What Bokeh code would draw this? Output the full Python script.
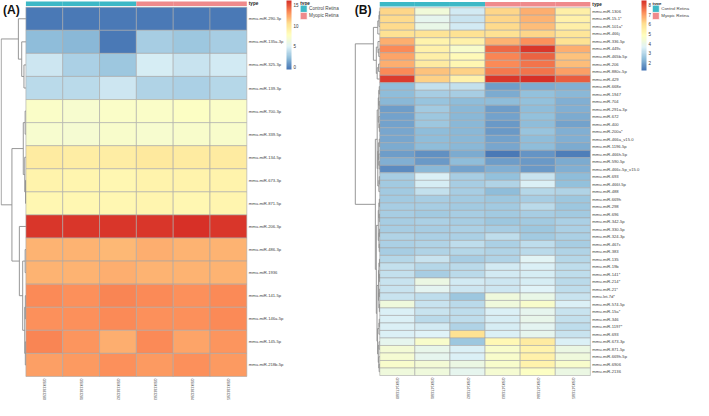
import numpy as np
from bokeh.plotting import figure
from bokeh.models import Range1d, ColumnDataSource, LinearColorMapper, ColorBar, FixedTicker
from bokeh.embed import file_html
from bokeh.resources import INLINE
from bokeh.core.properties import value

# ---------------- data ----------------
types = ["Control Retina", "Control Retina", "Control Retina",
         "Myopic Retina", "Myopic Retina", "Myopic Retina"]
type_colors = {"Control Retina": "#3DB8C6", "Myopic Retina": "#EF8A8C"}

samples_a = ["GSM3383280", "GSM3383281", "GSM3383282", "GSM3383283", "GSM3383284", "GSM3383285"]
samples_b = ["GSM1473380", "GSM1473381", "GSM1473382", "GSM1473383", "GSM1473384", "GSM1473385"]

genes_a = ["mmu-miR-290-3p", "mmu-miR-135a-3p", "mmu-miR-325-3p", "mmu-miR-139-3p",
           "mmu-miR-700-3p", "mmu-miR-339-5p", "mmu-miR-134-5p", "mmu-miR-673-3p",
           "mmu-miR-871-5p", "mmu-miR-206-3p", "mmu-miR-486-3p", "mmu-miR-1936",
           "mmu-miR-141-5p", "mmu-miR-146a-5p", "mmu-miR-145-5p", "mmu-miR-218b-5p"]
vals_a = [
    [-0.4, -0.4, -0.3, -0.4, -0.4, -0.4],
    [2.2, 1.9, -0.4, 3.0, 2.7, 3.0],
    [4.3, 3.1, 2.6, 4.6, 4.1, 4.5],
    [3.6, 3.7, 4.3, 3.4, 3.2, 3.5],
    [7.3, 7.0, 7.3, 7.4, 7.5, 7.4],
    [7.0, 6.9, 7.1, 7.0, 7.2, 7.1],
    [9.6, 9.4, 9.3, 9.7, 9.5, 9.6],
    [8.8, 8.7, 8.6, 8.9, 8.8, 8.9],
    [8.6, 8.6, 8.5, 8.7, 8.6, 8.7],
    [16.0, 16.0, 15.9, 16.0, 16.1, 16.0],
    [12.0, 12.1, 11.9, 12.2, 12.0, 12.1],
    [12.1, 12.0, 12.2, 12.0, 12.1, 12.0],
    [13.4, 13.3, 13.5, 13.4, 13.3, 13.4],
    [13.3, 13.2, 13.4, 13.3, 13.3, 13.4],
    [13.6, 13.0, 12.3, 13.4, 12.6, 13.0],
    [12.8, 12.9, 13.3, 12.9, 13.3, 12.9],
]
ticks_a = [0, 5, 10, 15]
range_a = (-0.63, 16.17)

genes_b = ["mmu-miR-1306", "mmu-miR-15-1*", "mmu-miR-101a*", "mmu-miR-466j", "mmu-miR-336-5p",
           "mmu-miR-449c", "mmu-miR-465b-5p", "mmu-miR-206", "mmu-miR-880c-5p", "mmu-miR-429",
           "mmu-miR-668e", "mmu-miR-1947", "mmu-miR-704", "mmu-miR-291a-3p", "mmu-miR-672",
           "mmu-miR-400", "mmu-miR-200a*", "mmu-miR-466a_v15.0", "mmu-miR-1196-5p", "mmu-miR-466h-5p",
           "mmu-miR-590-5p", "mmu-miR-466c-5p_v15.0", "mmu-miR-693", "mmu-miR-466f-5p", "mmu-miR-488",
           "mmu-miR-669h", "mmu-miR-298", "mmu-miR-696", "mmu-miR-342-5p", "mmu-miR-330-5p",
           "mmu-miR-324-3p", "mmu-miR-467c", "mmu-miR-383", "mmu-miR-135", "mmu-miR-19b",
           "mmu-miR-141*", "mmu-miR-214*", "mmu-miR-21*", "mmu-let-7d*", "mmu-miR-574-5p",
           "mmu-miR-15a*", "mmu-miR-346", "mmu-miR-1197*", "mmu-miR-693", "mmu-miR-673-3p",
           "mmu-miR-871-5p", "mmu-miR-669h-5p", "mmu-miR-6906", "mmu-miR-2136"]
vals_b = [
    [6.2, 4.3, 3.4, 6.2, 6.8, 5.5],
    [6.1, 3.9, 3.3, 6.2, 6.7, 5.4],
    [6.1, 4.0, 3.4, 6.1, 6.6, 5.5],
    [6.0, 5.9, 6.0, 6.0, 6.2, 5.8],
    [6.8, 5.3, 5.4, 6.7, 7.2, 6.0],
    [7.3, 5.4, 4.6, 7.7, 8.4, 6.8],
    [6.9, 5.5, 5.0, 7.4, 7.8, 6.5],
    [6.8, 5.6, 5.2, 7.3, 7.6, 6.6],
    [7.3, 6.5, 6.3, 7.5, 7.6, 7.0],
    [8.3, 6.3, 5.4, 8.4, 8.5, 7.9],
    [2.4, 3.2, 3.2, 1.9, 2.1, 2.2],
    [2.4, 2.75, 2.8, 2.1, 2.45, 2.35],
    [2.35, 2.55, 2.4, 2.4, 2.5, 2.15],
    [1.9, 2.7, 2.35, 1.9, 2.4, 2.2],
    [1.95, 2.6, 2.3, 1.95, 2.45, 2.1],
    [1.95, 2.6, 2.35, 1.85, 2.4, 1.95],
    [2.05, 2.4, 2.35, 1.85, 2.55, 2.2],
    [2.05, 2.4, 2.3, 1.95, 2.4, 2.15],
    [2.1, 2.4, 2.35, 2.05, 2.4, 2.1],
    [1.9, 1.65, 2.1, 1.3, 1.75, 1.35],
    [2.2, 1.85, 2.4, 1.9, 1.8, 2.1],
    [1.6, 2.35, 1.95, 2.15, 1.85, 2.15],
    [2.75, 3.6, 2.75, 2.5, 3.3, 2.4],
    [2.7, 3.5, 2.75, 2.95, 3.55, 2.5],
    [2.7, 3.2, 2.8, 2.4, 3.0, 2.95],
    [2.7, 2.75, 2.7, 2.6, 2.75, 2.6],
    [2.75, 2.8, 2.7, 2.7, 3.05, 2.6],
    [2.75, 2.7, 2.8, 2.7, 2.8, 2.7],
    [2.8, 2.85, 2.75, 2.6, 2.7, 2.85],
    [2.8, 2.8, 2.85, 2.75, 2.65, 2.85],
    [2.9, 2.85, 2.85, 3.15, 2.7, 2.85],
    [2.85, 2.95, 3.15, 2.85, 3.1, 2.8],
    [2.8, 2.95, 3.0, 2.95, 3.05, 2.9],
    [3.0, 3.25, 2.8, 2.95, 3.7, 3.0],
    [3.2, 3.0, 3.05, 3.4, 3.6, 3.1],
    [3.2, 2.8, 3.05, 3.4, 3.5, 3.15],
    [3.3, 4.1, 3.45, 3.35, 3.5, 3.05],
    [3.25, 3.8, 3.35, 3.35, 3.65, 3.1],
    [3.3, 3.1, 2.6, 4.2, 4.0, 3.3],
    [4.2, 3.3, 3.05, 4.2, 4.6, 3.55],
    [3.55, 3.3, 3.15, 3.55, 3.9, 3.3],
    [3.6, 3.05, 3.1, 3.5, 3.95, 3.2],
    [3.6, 3.45, 2.95, 3.5, 3.8, 3.15],
    [3.6, 3.65, 6.0, 3.55, 3.9, 3.3],
    [3.85, 4.6, 2.65, 5.1, 5.6, 3.55],
    [4.4, 3.95, 3.55, 4.6, 5.35, 4.05],
    [4.45, 3.85, 3.55, 4.6, 5.4, 4.2],
    [4.6, 4.4, 4.05, 4.6, 5.35, 4.6],
    [4.2, 4.2, 3.9, 4.45, 4.75, 4.05],
]
ticks_b = [2, 3, 4, 5, 6, 7, 8]
range_b = (1.2, 8.5)

# dendrogram merges: (left, right, height)
tree_a = ((0, (1, (2, 3, 2.0), 4.3), 7.7),
          (((4, 5, 0.8), (6, (7, 8, 0.4), 1.2), 2.7),
           (9, ((10, 11, 0.8), ((12, 13, 0.6), (14, 15, 0.6), 1.2), 3.3), 6.7),
           14.3),
          25.3)
warm_b = ((((0, 1, 0.4), 2, 0.8), 3, 2.0),
          ((4, (5, 6, 1.0), 1.8), ((7, 8, 1.2), 9, 2.6), 3.5), 6.5)
blue1_b = ((((10, 11, 0.5), (12, 13, 0.6), 1.0), (14, (15, 16, 0.4), 0.9), 1.5),
           (((17, 18, 0.5), (19, (20, 21, 0.6), 1.0), 1.4), ((22, 23, 0.5), 24, 0.9), 2.0), 2.6)
blue2_b = ((((25, 26, 0.4), (27, 28, 0.5), 0.9), ((29, 30, 0.4), (31, 32, 0.5), 0.8), 1.5),
           ((((33, 34, 0.3), (35, 36, 0.4), 0.8), ((37, 38, 0.5), (39, 40, 0.4), 0.9), 1.3),
            (((41, 42, 0.5), 43, 0.8), ((44, 45, 0.7), (46, (47, 48, 0.6), 1.0), 1.5), 2.2), 2.8), 3.5)
tree_b = (warm_b, (blue1_b, blue2_b, 4.5), 25.0)

# ---------------- styling ----------------
anchors = ["#4575B4", "#91BFDB", "#E0F3F8", "#FFFFBF", "#FEE090", "#FC8D59", "#D73027"]

def ramp(cols, n):
    rgb = np.array([[int(c[i:i + 2], 16) for i in (1, 3, 5)] for c in cols], float)
    pos = np.linspace(0, 1, len(cols))
    out = []
    for t in np.linspace(0, 1, n):
        r = [np.interp(t, pos, rgb[:, k]) for k in range(3)]
        out.append("#%02x%02x%02x" % tuple(int(round(v)) for v in r))
    return out

palette = ramp(anchors, 100)
FONT = value("Liberation Sans")

W, H = 693, 400
RW, RH = 709, 416
SX, SY = W / RW, H / RH
FS = (SX + SY) / 2

p = figure(width=W, height=H, x_range=Range1d(0, RW), y_range=Range1d(RH, 0),
           output_backend="svg", toolbar_location=None,
           x_axis_location=None, y_axis_location=None, min_border=0)
p.grid.visible = False
p.outline_line_color = None
p.background_fill_color = "white"


def px(v):
    return "%.2fpx" % (v * FS)


def panel(genes, vals, samples, tree, rng, ticks, x0, x1, y0, y1, tag, tagx,
          cbx, cby1, legx, legfs):
    nr, nc = len(genes), len(samples)
    cw = (x1 - x0) / nc
    rh = (y1 - y0) / nr
    mapper = LinearColorMapper(palette=palette, low=rng[0], high=rng[1])
    L, R, T, B, V = [], [], [], [], []
    for i in range(nr):
        for j in range(nc):
            L.append(x0 + j * cw); R.append(x0 + (j + 1) * cw)
            T.append(y0 + i * rh); B.append(y0 + (i + 1) * rh)
            V.append(vals[i][j])
    src = ColumnDataSource(dict(left=L, right=R, top=T, bottom=B, v=V))
    p.quad(left="left", right="right", top="top", bottom="bottom", source=src,
           fill_color={"field": "v", "transform": mapper},
           line_color="#a8a8a8", line_width=0.6)
    # annotation bar
    p.quad(left=[x0 + j * cw for j in range(nc)], right=[x0 + (j + 1) * cw for j in range(nc)],
           top=[y0 - 6.0] * nc, bottom=[y0 - 1.3] * nc,
           fill_color=[type_colors[t] for t in types], line_color=None)
    p.text(x=[x1 + 2], y=[y0 - 3.6], text=["type"], text_font=FONT, text_font_style="bold",
           text_font_size=px(4.8), text_baseline="middle", text_color="#222")
    # row labels
    p.text(x=[x1 + 2] * nr, y=[y0 + (i + 0.5) * rh for i in range(nr)], text=genes,
           text_font=FONT, text_font_size=px(4.3), text_baseline="middle",
           text_align="left", text_color="#444")
    # column labels
    p.text(x=[x0 + (j + 0.5) * cw for j in range(nc)], y=[y1 + 2.0] * nc, text=samples,
           angle=-np.pi / 2, text_font=FONT, text_font_size=px(3.6),
           text_baseline="middle", text_align="left", text_color="#444")
    # dendrogram
    segs = []

    def walk(node):
        if isinstance(node, int):
            return y0 + (node + 0.5) * rh, 0.0
        a, b, h = node
        ya, ha = walk(a)
        yb, hb = walk(b)
        xh = x0 - h
        segs.append((xh, ya, xh, yb))
        segs.append((xh, ya, x0 - ha, ya))
        segs.append((xh, yb, x0 - hb, yb))
        return (ya + yb) / 2, h

    walk(tree)
    s = np.array(segs)
    p.segment(x0=s[:, 0], y0=s[:, 1], x1=s[:, 2], y1=s[:, 3], line_color="#8c8c8c",
              line_width=0.9)
    # panel tag
    p.text(x=[tagx], y=[9.5], text=[tag], text_font=FONT, text_font_style="bold",
           text_font_size=px(12.5), text_baseline="middle", text_color="#111")
    # colour bar
    cb = ColorBar(color_mapper=mapper, location=(int(round(cbx * SX)), int(round(H - cby1 * SY))),
                  width=int(round(4.8 * SX)), height=int(round(cby1 * SY)), orientation="vertical",
                  ticker=FixedTicker(ticks=ticks), padding=0, margin=0,
                  label_standoff=2, major_tick_line_color=None, minor_tick_line_color=None,
                  bar_line_color=None, border_line_color=None, background_fill_color=None,
                  major_label_text_font="Liberation Sans",
                  major_label_text_font_size=px(4.6), major_label_text_color="#333")
    p.add_layout(cb)
    # legend for type
    p.text(x=[legx], y=[2.6], text=["type"], text_font=FONT, text_font_style="bold",
           text_font_size=px(legfs), text_baseline="middle", text_color="#222")
    keys = list(type_colors.keys())
    p.quad(left=[legx] * 2, right=[legx + 7] * 2, top=[5.0, 12.4], bottom=[12.4, 19.8],
           fill_color=[type_colors[k] for k in keys], line_color="white", line_width=0.6)
    p.text(x=[legx + 9] * 2, y=[8.7, 16.1], text=keys, text_font=FONT,
           text_font_size=px(legfs), text_baseline="middle", text_color="#444")


panel(genes_a, vals_a, samples_a, tree_a, range_a, ticks_a, 26.0, 252.0, 7.0, 391.0,
      "(A)", 2.5, 292.7, 71.7, 306.7, 4.8)
panel(genes_b, vals_b, samples_b, tree_b, range_b, ticks_b, 388.0, 603.5, 7.5, 390.0,
      "(B)", 362.5, 656.0, 73.0, 667.0, 4.5)

open("out.html", "w").write(file_html(p, INLINE))
